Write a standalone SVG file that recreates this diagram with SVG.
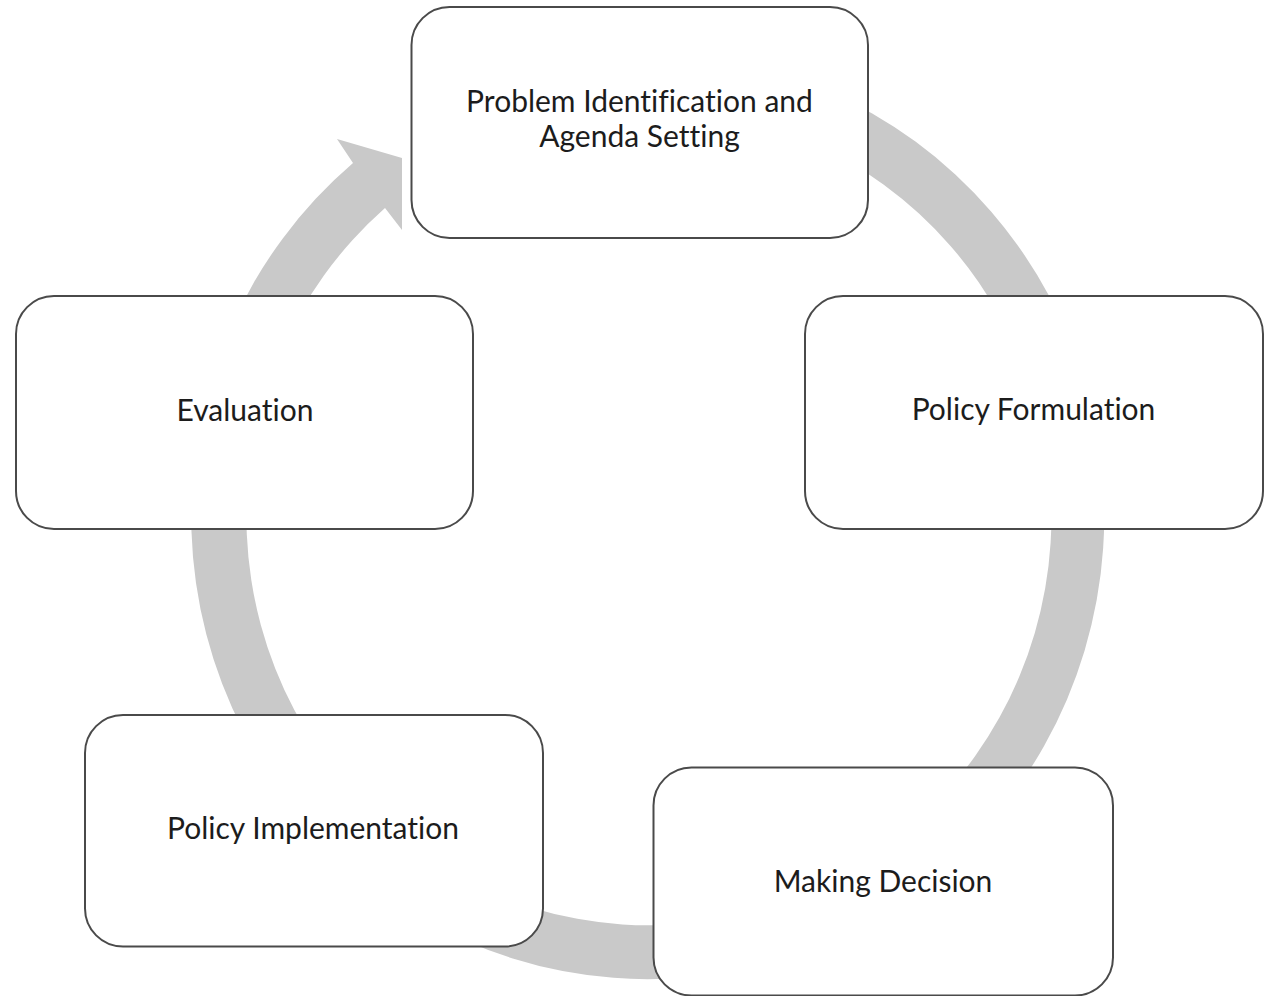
<svg xmlns="http://www.w3.org/2000/svg" width="1271" height="996" viewBox="0 0 1271 996">
  <style>
    .box { fill: #ffffff; stroke: #4a4a4a; stroke-width: 2; }
    .lbl { font-family: Lato, "Open Sans", "Liberation Sans", sans-serif; font-size: 30px; fill: #1c1c1c; text-anchor: middle; font-variant-ligatures: none; }
    .arc { fill: #c9c9c9; stroke: none; }
  </style>
  <rect x="0" y="0" width="1271" height="996" fill="#ffffff"/>
  <g id="connectors">
    <path class="arc" d="M 727.8 60.8 A 456.5 462.75 0 1 1 353 163 L 337 139 L 402 158 L 402 230 L 385 208 A 402.5 408.75 0 1 0 718.4 114 Z"/>
  </g>
  <g id="node-problem">
    <rect class="box" x="411.5" y="7" width="456.5" height="231" rx="38" ry="38"/>
    <text class="lbl" x="639.5" y="112">Problem Identification and</text>
    <text class="lbl" x="639.5" y="147">Agenda Setting</text>
  </g>
  <g id="node-formulation">
    <rect class="box" x="805" y="296" width="458" height="233" rx="38" ry="38"/>
    <text class="lbl" x="1033.5" y="420">Policy Formulation</text>
  </g>
  <g id="node-decision">
    <rect class="box" x="653.5" y="767.5" width="459.5" height="228" rx="38" ry="38"/>
    <text class="lbl" x="883" y="891.5">Making Decision</text>
  </g>
  <g id="node-implementation">
    <rect class="box" x="85" y="715" width="458" height="231.5" rx="38" ry="38"/>
    <text class="lbl" x="313" y="838.5">Policy Implementation</text>
  </g>
  <g id="node-evaluation">
    <rect class="box" x="16" y="296" width="457" height="233" rx="38" ry="38"/>
    <text class="lbl" x="245" y="420.5">Evaluation</text>
  </g>
</svg>
